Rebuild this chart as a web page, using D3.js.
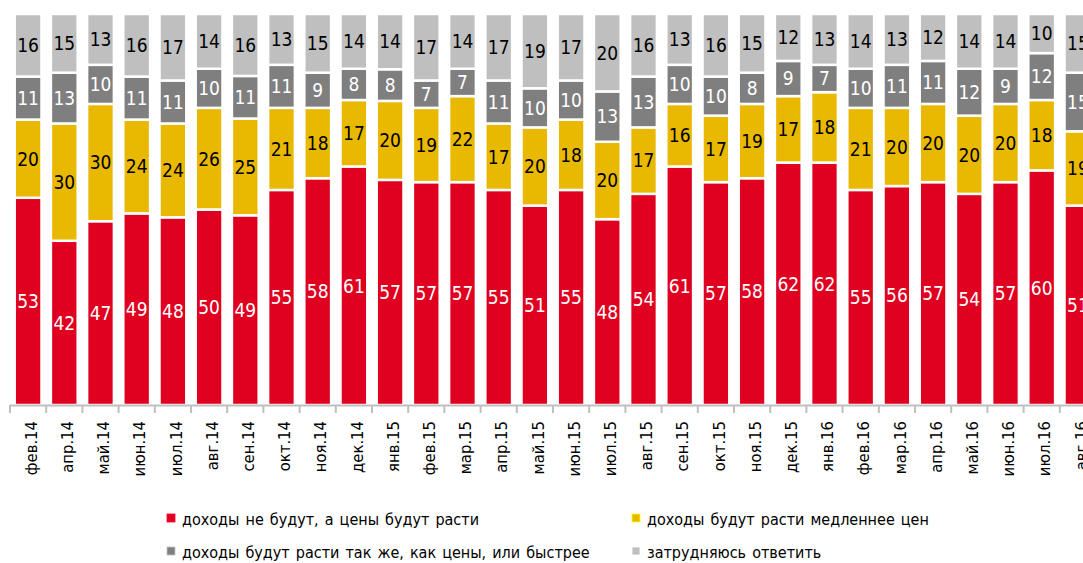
<!DOCTYPE html>
<html><head><meta charset="utf-8">
<script src="https://cdn.jsdelivr.net/npm/d3@7"></script>
<style>
html,body{margin:0;padding:0;background:#fff;}
svg{display:block;font-family:"Liberation Sans Narrow","DejaVu Sans Condensed",sans-serif;}
</style></head>
<body>
<svg id="chart" width="1083" height="563"></svg>
<script>
const categories = ["фев.14","апр.14","май.14","июн.14","июл.14","авг.14","сен.14","окт.14","ноя.14","дек.14",
  "янв.15","фев.15","мар.15","апр.15","май.15","июн.15","июл.15","авг.15","сен.15","окт.15",
  "ноя.15","дек.15","янв.16","фев.16","мар.16","апр.16","май.16","июн.16","июл.16","авг.16"];
const seriesNames = ["доходы не будут, а цены будут расти","доходы будут расти медленнее цен",
  "доходы будут расти так же, как цены, или быстрее","затрудняюсь ответить"];
const incomeNotGrow = [53,42,47,49,48,50,49,55,58,61,57,57,57,55,51,55,48,54,61,57,58,62,62,55,56,57,54,57,60,51];
const growSlower    = [20,30,30,24,24,26,25,21,18,17,20,19,22,17,20,18,20,17,16,17,19,17,18,21,20,20,20,20,18,19];
const growSameFaster= [11,13,10,11,11,10,11,11,9,8,8,7,7,11,10,10,13,13,10,10,8,9,7,10,11,11,12,9,12,15];
const hardToSay     = [16,15,13,16,17,14,16,13,15,14,14,17,14,17,19,17,20,16,13,16,15,12,13,14,13,12,14,14,10,15];

const colors = ["#e0001f","#e9b800","#7f7f7f","#bfbfbf"];
const textColors = ["#ffffff","#000000","#ffffff","#000000"];

const rows = categories.map((c,i)=>({cat:c, s0:incomeNotGrow[i], s1:growSlower[i], s2:growSameFaster[i], s3:hardToSay[i]}));
const keys = ["s0","s1","s2","s3"];
const stack = d3.stack().keys(keys).offset(d3.stackOffsetExpand);
const layers = stack(rows);

const svg = d3.select("#chart");
const x = d3.scaleBand().domain(categories).range([10, 1096]).padding(0);
const y = d3.scaleLinear().domain([0,1]).range([405, 14]);
const barW = x.bandwidth()*0.74;
const sw = 2.5;

const g = svg.append("g");
layers.forEach((layer, li) => {
  const lg = g.append("g");
  lg.selectAll("rect").data(layer).join("rect")
    .attr("x", d => x(d.data.cat) + (x.bandwidth()-barW)/2)
    .attr("y", d => y(d[1]))
    .attr("width", barW)
    .attr("height", d => y(d[0]) - y(d[1]))
    .attr("fill", colors[li])
    .attr("stroke", "#fff")
    .attr("stroke-width", sw);
  lg.selectAll("text").data(layer).join("text")
    .attr("x", d => x(d.data.cat) + x.bandwidth()/2)
    .attr("y", d => (y(d[0]) + y(d[1]))/2)
    .attr("dy", "0.36em")
    .attr("text-anchor", "middle")
    .attr("font-size", 19)
    .attr("fill", textColors[li])
    .text(d => d.data[keys[li]]);
});

// axis
const axisG = svg.append("g").attr("transform","translate(0,405)");
axisG.append("line").attr("x1",10).attr("x2",1096).attr("y1",0.5).attr("y2",0.5)
  .attr("stroke","#bfbfbf").attr("stroke-width",2);
axisG.selectAll("line.tick").data(categories).join("line").attr("class","tick")
  .attr("x1", d => x(d)).attr("x2", d => x(d))
  .attr("y1", 0).attr("y2", 8)
  .attr("stroke","#bfbfbf").attr("stroke-width",2);
axisG.selectAll("text.lbl").data(categories).join("text").attr("class","lbl")
  .attr("transform", d => `translate(${x(d)+x.bandwidth()/2+3},16) rotate(-90)`)
  .attr("dy","0.35em")
  .attr("text-anchor","end")
  .attr("font-size",16.5)
  .attr("fill","#000")
  .text(d => d);

// legend
const legendPos = [[167,519],[632,519],[167,552],[632,552]];
const leg = svg.append("g");
seriesNames.forEach((name,i)=>{
  const [lx,ly] = legendPos[i];
  leg.append("rect").attr("x",lx).attr("y",ly-5).attr("width",8).attr("height",8)
    .attr("fill",colors[i]).attr("stroke", d3.color(colors[i]).brighter(1.2)).attr("stroke-width",0.8);
  leg.append("text").attr("x",lx+15).attr("y",ly).attr("dy","0.35em")
    .attr("font-size",16).attr("word-spacing",1.5).attr("fill","#000").text(name);
});
</script>
</body></html>
